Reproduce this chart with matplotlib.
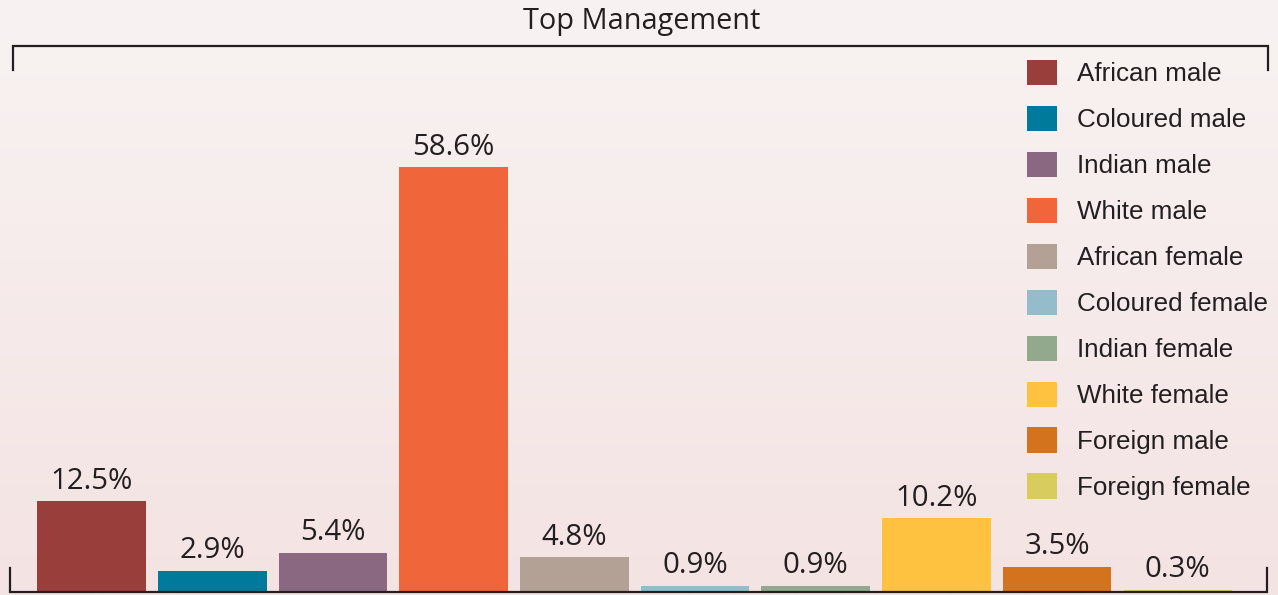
import matplotlib.pyplot as plt
import numpy as np
from matplotlib.patches import Patch
from matplotlib.lines import Line2D

categories = ["African male", "Coloured male", "Indian male", "White male",
              "African female", "Coloured female", "Indian female",
              "White female", "Foreign male", "Foreign female"]
values = [12.5, 2.9, 5.4, 58.6, 4.8, 0.9, 0.9, 10.2, 3.5, 0.3]
colors = ["#9a3e3c", "#007a9a", "#8b6882", "#f0663a", "#b3a196",
          "#94bccb", "#92a98e", "#ffc240", "#d4731e", "#d9cc5e"]

W, H = 1278, 595
fig = plt.figure(figsize=(W / 100, H / 100), dpi=100)
ax = fig.add_axes([0, 0, 1, 1])

# background gradient
grad = np.linspace(0, 1, 256).reshape(-1, 1)
top = np.array([248, 243, 242]) / 255
bot = np.array([244, 227, 227]) / 255
img = top + (bot - top) * grad[:, :, None]
ax.imshow(img, extent=[0, 1, 0, 1], transform=ax.transAxes, aspect="auto",
          origin="upper", zorder=0)

x = np.arange(len(values))
ax.bar(x, values, width=0.9, color=colors, zorder=2)
for xi, v in zip(x, values):
    ax.annotate(f"{v}%", (xi, v), xytext=(0, 4), textcoords="offset points",
                ha="center", va="bottom", fontsize=21.2, family="Open Sans",
                color="#231f20", zorder=3)

ax.set_xlim(-0.758, 9.83)
ax.set_ylim(-0.41, 81.66)
ax.axis("off")

fig.text(642 / W, 1 - 21 / H, "Top Management", ha="center", va="center",
         fontsize=20.8, family="Open Sans", color="#231f20")

# brackets (figure pixel coords)
def px(xs, ys):
    return [a / W for a in xs], [1 - b / H for b in ys]

lc = "#231f20"
for xs, ys in [([13, 13, 1268, 1268], [70, 46, 46, 70]),
               ([10, 10, 1267, 1267], [568, 592, 592, 568])]:
    fx, fy = px(xs, ys)
    fig.add_artist(Line2D(fx, fy, color=lc, lw=1.6, transform=fig.transFigure,
                          solid_joinstyle="miter"))

handles = [Patch(facecolor=c, edgecolor="none") for c in colors]
leg = ax.legend(handles, categories, loc="upper left",
                bbox_to_anchor=(1027 / W, 1 - 60 / H), bbox_transform=fig.transFigure,
                frameon=False, prop={"family": "Liberation Sans", "size": 18.7},
                handlelength=1.15, handleheight=1.12, handletextpad=0.77,
                labelspacing=0.75, borderpad=0, borderaxespad=0)
for t in leg.get_texts():
    t.set_color("#231f20")

fig.savefig("out.png", dpi=100)
